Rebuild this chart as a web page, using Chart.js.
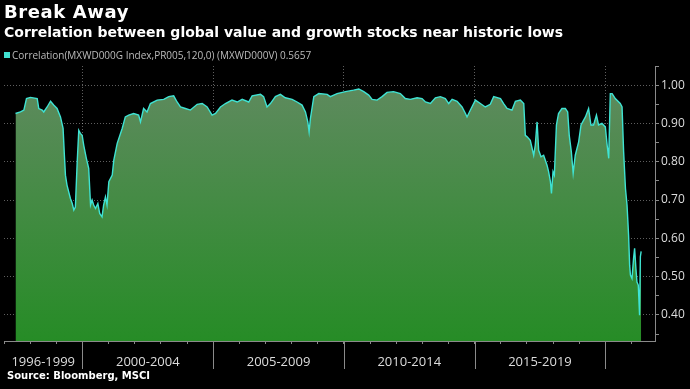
<!DOCTYPE html>
<html>
<head>
<meta charset="utf-8">
<script src="https://cdn.jsdelivr.net/npm/chart.js@4.4.0/dist/chart.umd.min.js"></script>
<style>
  html, body { margin:0; padding:0; background:#000; }
  #wrap { position:relative; width:690px; height:389px; background:#000; overflow:hidden; }
  #myChart { position:absolute; left:0; top:0; }
  .titulo { position:absolute; left:4px; top:1px; font:bold 18px "DejaVu Sans"; color:#fff; letter-spacing:0.6px; white-space:nowrap; }
  .subtitulo { position:absolute; left:4px; top:24px; font:bold 14px "DejaVu Sans"; color:#fff; white-space:nowrap; }
  .legenda { position:absolute; left:4px; top:48px; font:10px "Open Sans"; color:#bbb; white-space:nowrap; }
  .legenda span { display:inline-block; width:6px; height:6px; background:#40e0d0; margin-right:2px; vertical-align:1px; }
  .fonte { position:absolute; left:7px; top:370px; font:bold 10px "DejaVu Sans"; color:#fff; white-space:nowrap; }
</style>
</head>
<body>
<div id="wrap">
  <canvas id="myChart" width="690" height="389"></canvas>
  <div class="titulo">Break Away</div>
  <div class="subtitulo">Correlation between global value and growth stocks near historic lows</div>
  <div class="legenda"><span></span>Correlation(MXWD000G Index,PR005,120,0) (MXWD000V) 0.5657</div>
  <div class="fonte">Source: Bloomberg, MSCI</div>
</div>
<script>
// anos decimais
const anos = [
  1997.44, 1997.63, 1997.76, 1997.86, 1998.01, 1998.27, 1998.33, 1998.46, 1998.52, 1998.65,
  1998.78, 1998.90, 1999.03, 1999.16, 1999.26, 1999.31, 1999.35, 1999.41, 1999.54, 1999.61,
  1999.67, 1999.73, 1999.80, 1999.86, 1999.92, 1999.99, 2000.05, 2000.15, 2000.24, 2000.31,
  2000.37, 2000.43, 2000.50, 2000.59, 2000.66, 2000.75, 2000.81, 2000.88, 2000.94, 2001.01,
  2001.14, 2001.20, 2001.33, 2001.52, 2001.64, 2001.77, 2001.96, 2002.15, 2002.22, 2002.34,
  2002.47, 2002.60, 2002.86, 2003.11, 2003.30, 2003.49, 2003.62, 2003.75, 2003.94, 2004.13,
  2004.39, 2004.58, 2004.77, 2004.96, 2005.09, 2005.28, 2005.47, 2005.72, 2005.92, 2006.11,
  2006.36, 2006.49, 2006.81, 2006.93, 2007.06, 2007.19, 2007.38, 2007.57, 2007.76, 2008.02,
  2008.21, 2008.40, 2008.53, 2008.62, 2008.67, 2008.72, 2008.85, 2009.04, 2009.36, 2009.48,
  2009.74, 2010.06, 2010.37, 2010.57, 2010.76, 2010.95, 2011.08, 2011.27, 2011.46, 2011.65,
  2011.90, 2012.16, 2012.35, 2012.54, 2012.80, 2012.99, 2013.12, 2013.31, 2013.50, 2013.69,
  2013.88, 2014.01, 2014.14, 2014.33, 2014.52, 2014.65, 2014.71, 2014.84, 2015.03, 2015.22,
  2015.41, 2015.60, 2015.73, 2015.99, 2016.11, 2016.24, 2016.43, 2016.56, 2016.75, 2016.88,
  2016.94, 2017.01, 2017.13, 2017.26, 2017.32, 2017.39, 2017.45, 2017.54, 2017.64, 2017.77,
  2017.83, 2017.90, 2017.94, 2018.00, 2018.05, 2018.13, 2018.21, 2018.34, 2018.47, 2018.56,
  2018.62, 2018.70, 2018.77, 2018.85, 2018.98, 2019.07, 2019.24, 2019.36, 2019.45, 2019.55,
  2019.66, 2019.74, 2019.87, 2020.00, 2020.07, 2020.13, 2020.19, 2020.26, 2020.38, 2020.57,
  2020.64, 2020.70, 2020.77, 2020.83, 2020.89, 2020.93, 2020.96, 2021.02, 2021.08, 2021.12,
  2021.17, 2021.21, 2021.26, 2021.31, 2021.34, 2021.37
];
const correlacao = [
  0.926, 0.930, 0.935, 0.965, 0.968, 0.965, 0.939, 0.935, 0.930, 0.943,
  0.958, 0.948, 0.939, 0.917, 0.887, 0.817, 0.765, 0.739, 0.704, 0.691,
  0.674, 0.682, 0.800, 0.882, 0.874, 0.869, 0.843, 0.809, 0.783, 0.687,
  0.700, 0.687, 0.678, 0.691, 0.665, 0.656, 0.687, 0.708, 0.687, 0.748,
  0.765, 0.804, 0.848, 0.887, 0.917, 0.922, 0.926, 0.922, 0.904, 0.939,
  0.930, 0.952, 0.961, 0.963, 0.970, 0.972, 0.956, 0.943, 0.939, 0.935,
  0.950, 0.952, 0.943, 0.922, 0.926, 0.943, 0.952, 0.961, 0.956, 0.963,
  0.956, 0.972, 0.976, 0.970, 0.943, 0.952, 0.970, 0.976, 0.967, 0.963,
  0.956, 0.948, 0.930, 0.904, 0.878, 0.913, 0.970, 0.978, 0.976, 0.970,
  0.978, 0.983, 0.987, 0.990, 0.983, 0.974, 0.963, 0.961, 0.970, 0.981,
  0.983, 0.978, 0.965, 0.963, 0.967, 0.965, 0.956, 0.952, 0.967, 0.970,
  0.965, 0.952, 0.963, 0.958, 0.943, 0.926, 0.917, 0.935, 0.961, 0.952,
  0.943, 0.950, 0.970, 0.965, 0.952, 0.939, 0.935, 0.958, 0.961, 0.952,
  0.869, 0.865, 0.856, 0.817, 0.843, 0.904, 0.830, 0.813, 0.817, 0.791,
  0.774, 0.748, 0.717, 0.774, 0.765, 0.896, 0.926, 0.939, 0.939, 0.930,
  0.869, 0.826, 0.770, 0.817, 0.852, 0.896, 0.917, 0.939, 0.896, 0.896,
  0.922, 0.896, 0.900, 0.891, 0.843, 0.809, 0.978, 0.978, 0.965, 0.952,
  0.943, 0.826, 0.730, 0.687, 0.608, 0.530, 0.504, 0.495, 0.548, 0.574,
  0.521, 0.486, 0.478, 0.399, 0.552, 0.566
];

const rotulosPeriodo = ['1996-1999', '2000-2004', '2005-2009', '2010-2014', '2015-2019'];
const posicoesRotulos = [1998.5, 2002.5, 2007.5, 2012.5, 2017.5];
const separadores = [2000, 2005, 2010, 2015, 2020];
const marcasAno = [1997, 1998, 1999, 2000, 2001, 2002, 2003, 2004, 2005, 2006, 2007, 2008,
  2009, 2010, 2011, 2012, 2013, 2014, 2015, 2016, 2017, 2018, 2019, 2020, 2021];
const ticksY = [0.35, 0.40, 0.45, 0.50, 0.55, 0.60, 0.65, 0.70, 0.75, 0.80, 0.85, 0.90, 0.95, 1.00, 1.05];
const rotulosY = [0.40, 0.50, 0.60, 0.70, 0.80, 0.90, 1.00];

const corGrade = 'rgba(210,210,210,0.45)';
const corEixo = '#8a8a8a';

// linhas separadoras abaixo do eixo x
const linhasSeparadoras = {
  id: 'linhasSeparadoras',
  afterDraw(chart) {
    const { ctx, chartArea } = chart;
    const x = chart.scales.x;
    ctx.save();
    ctx.strokeStyle = corEixo;
    ctx.lineWidth = 1;
    separadores.forEach(s => {
      const px = Math.round(x.getPixelForValue(s)) + 0.5;
      ctx.beginPath();
      ctx.moveTo(px, chartArea.bottom);
      ctx.lineTo(px, chartArea.bottom + 28);
      ctx.stroke();
    });
    ctx.restore();
  }
};

function construirChart() {
  const ctx = document.getElementById('myChart');
  new Chart(ctx, {
    type: 'line',
    data: {
      datasets: [{
        label: 'Correlation(MXWD000G Index,PR005,120,0) (MXWD000V)',
        data: anos.map((a, i) => ({ x: a, y: correlacao[i] })),
        borderColor: '#3fe3d3',
        borderWidth: 1.4,
        pointRadius: 0,
        tension: 0,
        fill: 'start',
        backgroundColor: (context) => {
          const { ctx, chartArea } = context.chart;
          if (!chartArea) return '#3f8a3f';
          const g = ctx.createLinearGradient(0, chartArea.top, 0, chartArea.bottom);
          g.addColorStop(0, '#628a62');
          g.addColorStop(1, '#268c26');
          return g;
        }
      }]
    },
    options: {
      responsive: false,
      animation: false,
      layout: { padding: { left: 4, top: 66, right: 0, bottom: 19 } },
      plugins: { legend: { display: false }, title: { display: false }, tooltip: { enabled: false } },
      scales: {
        x: {
          type: 'linear',
          min: 1997.0,
          max: 2021.9,
          z: 1,
          afterBuildTicks: (s) => {
            s.ticks = marcasAno.concat(posicoesRotulos).sort((a, b) => a - b).map(v => ({ value: v }));
          },
          afterFit: (s) => { s.height = 29; s.paddingLeft = 0; s.paddingRight = 0; },
          ticks: {
            autoSkip: false,
            maxRotation: 0,
            padding: 10,
            color: '#dcdcdc',
            font: { family: 'Open Sans', size: 13 },
            callback: (v) => {
              const i = posicoesRotulos.indexOf(v);
              return i >= 0 ? rotulosPeriodo[i] : '';
            }
          },
          grid: {
            drawOnChartArea: true,
            tickLength: 3,
            color: (c) => (c.tick && separadores.includes(c.tick.value)) ? corGrade : 'rgba(0,0,0,0)',
            tickColor: (c) => (c.tick && Number.isInteger(c.tick.value)) ? corEixo : 'rgba(0,0,0,0)'
          },
          border: { display: true, color: corEixo, dash: [1, 2] }
        },
        y: {
          position: 'right',
          min: 0.332,
          max: 1.05,
          z: 1,
          afterBuildTicks: (s) => { s.ticks = ticksY.map(v => ({ value: v })); },
          afterFit: (s) => { s.width = 35; },
          ticks: {
            padding: 2,
            color: '#dcdcdc',
            font: { family: 'Open Sans', size: 12 },
            callback: (v) => rotulosY.some(r => Math.abs(r - v) < 1e-6) ? v.toFixed(2) : ''
          },
          grid: {
            tickLength: 4,
            color: (c) => (c.tick && rotulosY.some(r => Math.abs(r - c.tick.value) < 1e-6)) ? corGrade : 'rgba(0,0,0,0)',
            tickColor: corEixo
          },
          border: { display: true, color: corEixo, dash: [1, 2] }
        }
      }
    },
    plugins: [linhasSeparadoras]
  });
}

construirChart();
</script>
</body>
</html>
